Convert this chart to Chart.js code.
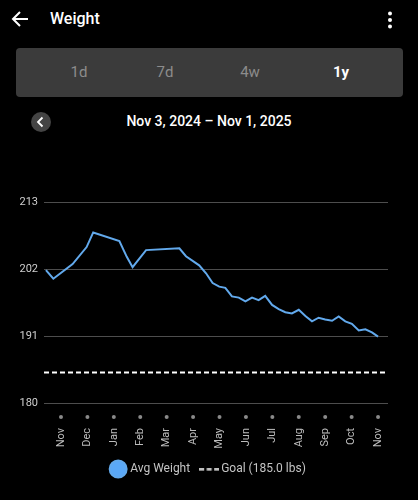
<!DOCTYPE html>
<html>
<head>
<meta charset="utf-8">
<script src="https://cdn.jsdelivr.net/npm/chart.js@4.4.1/dist/chart.umd.min.js"></script>
<style>
  html,body{margin:0;padding:0;background:#000;width:418px;height:500px;overflow:hidden;font-family:Roboto,"Noto Sans",sans-serif;color:#fff;}
  .top{position:absolute;left:0;top:0;width:418px;height:40px;}
  .title{position:absolute;left:50px;top:9px;font-size:16px;font-weight:500;}
  .seg{position:absolute;left:16px;top:48px;width:387px;height:49px;background:#3b3b3b;border-radius:4px;}
  .seg span{position:absolute;top:15px;font-size:15px;color:#8c8c8c;transform:translateX(-50%);}
  .seg span.on{color:#fff;font-weight:700;}
  .prev{position:absolute;left:31px;top:112px;width:20px;height:20px;border-radius:50%;background:#444;}
  .range{position:absolute;left:0;width:418px;top:113px;text-align:center;font-size:14px;font-weight:500;}
  #wrap{position:absolute;left:0;top:140px;width:418px;height:360px;}
</style>
</head>
<body>
<div class="top">
  <svg style="position:absolute;left:11px;top:10px" width="18" height="18" viewBox="0 0 18 18">
    <path d="M17 9H2 M9 2L2 9L9 16" stroke="#fff" stroke-width="2" fill="none"/>
  </svg>
  <div class="title">Weight</div>
  <svg style="position:absolute;left:386px;top:11px" width="8" height="18" viewBox="0 0 8 18">
    <circle cx="4" cy="2.5" r="2" fill="#fff"/><circle cx="4" cy="9" r="2" fill="#fff"/><circle cx="4" cy="15.5" r="2" fill="#fff"/>
  </svg>
</div>
<div class="seg">
  <span style="left:63px">1d</span><span style="left:149px">7d</span><span style="left:234px">4w</span><span class="on" style="left:325px">1y</span>
</div>
<div class="prev">
  <svg width="20" height="20" viewBox="0 0 20 20"><path d="M11.5 5.5L7 10L11.5 14.5" stroke="#fff" stroke-width="1.8" fill="none"/></svg>
</div>
<div class="range">Nov 3, 2024 – Nov 1, 2025</div>
<div id="wrap"><canvas id="chart"></canvas></div>
<script>
// month tick labels (evenly spaced, index = month position)
const months = ['Nov','Dec','Jan','Feb','Mar','Apr','May','Jun','Jul','Aug','Sep','Oct','Nov'];
// position of each avg-weight point, in month units (Nov = 0)
const weekPos = [-0.57,-0.29,0.44,0.97,1.22,2.21,2.49,2.71,3.22,4.48,4.73,5.23,5.49,5.74,5.99,6.22,
  6.47,6.73,6.98,7.23,7.48,7.73,7.99,8.24,8.49,8.74,9.00,9.25,9.50,9.75,10.00,10.26,10.51,10.76,
  11.01,11.27,11.52,11.77,12.00];
const avgWeight = [201.8,200.4,202.8,205.6,208.0,206.6,204.0,202.3,205.1,205.4,204.1,202.6,201.3,199.7,199.1,198.9,
  197.5,197.3,196.7,197.3,196.9,197.6,196.1,195.4,194.9,194.7,195.3,194.3,193.4,194.0,193.7,193.5,194.2,193.4,
  193.0,191.9,192.1,191.6,190.9];
const goal = 185.0;
const yTicks = [180,191,202,213];
const xRange = [-0.643, 12.377];

// dashed swatch for the goal legend entry
const dashIcon = document.createElement('canvas');
dashIcon.width = 20; dashIcon.height = 3;
(function(){
  const g = dashIcon.getContext('2d');
  g.strokeStyle = '#fff'; g.lineWidth = 2; g.setLineDash([5,2.5]);
  g.beginPath(); g.moveTo(0,1.5); g.lineTo(20,1.5); g.stroke();
})();

const dots = {
  id:'dots',
  afterDraw(c){
    const s = c.scales.x, ctx = c.ctx;
    ctx.save();
    ctx.fillStyle = '#8a8a8a';
    s.ticks.forEach(t=>{
      ctx.beginPath();
      ctx.arc(s.getPixelForValue(t.value), c.chartArea.bottom+14, 2, 0, Math.PI*2);
      ctx.fill();
    });
    ctx.restore();
  }
};

new Chart(document.getElementById('chart'), {
  type:'line',
  data:{
    datasets:[
      { label:'Avg Weight', data: weekPos.map((x,i)=>({x, y:avgWeight[i]})),
        borderColor:'#62a9ec', backgroundColor:'#5aa8f7', borderWidth:2,
        pointRadius:0, pointStyle:'circle', tension:0 },
      { label:'Goal ('+goal.toFixed(1)+' lbs)', data: xRange.map(x=>({x, y:goal})),
        borderColor:'#fff', backgroundColor:'#fff', borderWidth:2, borderDash:[5,3],
        pointRadius:0, pointStyle:dashIcon }
    ]
  },
  options:{
    responsive:true, maintainAspectRatio:false, animation:false,
    layout:{ padding:{ top:62, left:16, right:16, bottom:15 } },
    scales:{
      x:{ type:'linear', min:xRange[0], max:xRange[1],
        afterBuildTicks: s => { s.ticks = months.map((_,i)=>({value:i})); },
        afterFit: s => { s.height = 47; },
        grid:{ drawOnChartArea:false, drawTicks:false },
        border:{ display:false },
        ticks:{ callback: v => months[v], color:'#bdbdbd', font:{ family:'Roboto', size:11 },
          minRotation:90, maxRotation:90, padding:25, autoSkip:false }
      },
      y:{ min:180, max:213,
        afterBuildTicks: s => { s.ticks = yTicks.map(v=>({value:v})); },
        afterFit: s => { s.width = 28; },
        grid:{ color:'#4d4d4d', drawTicks:false },
        border:{ display:false },
        ticks:{ color:'#cfcfcf', font:{ family:'Roboto', size:11 }, padding:6 }
      },
      // empty right-hand spacer so the plot ends where the reference does
      yR:{ type:'linear', position:'right', min:180, max:213,
        afterFit: s => { s.width = 14; },
        grid:{ display:false }, border:{ display:false }, ticks:{ display:false }
      }
    },
    plugins:{
      legend:{ position:'bottom',
        labels:{ usePointStyle:true, color:'#c4c4c4', font:{ family:'Roboto', size:12 }, padding:13 } },
      tooltip:{ enabled:false }
    }
  },
  plugins:[dots]
});
</script>
</body>
</html>
